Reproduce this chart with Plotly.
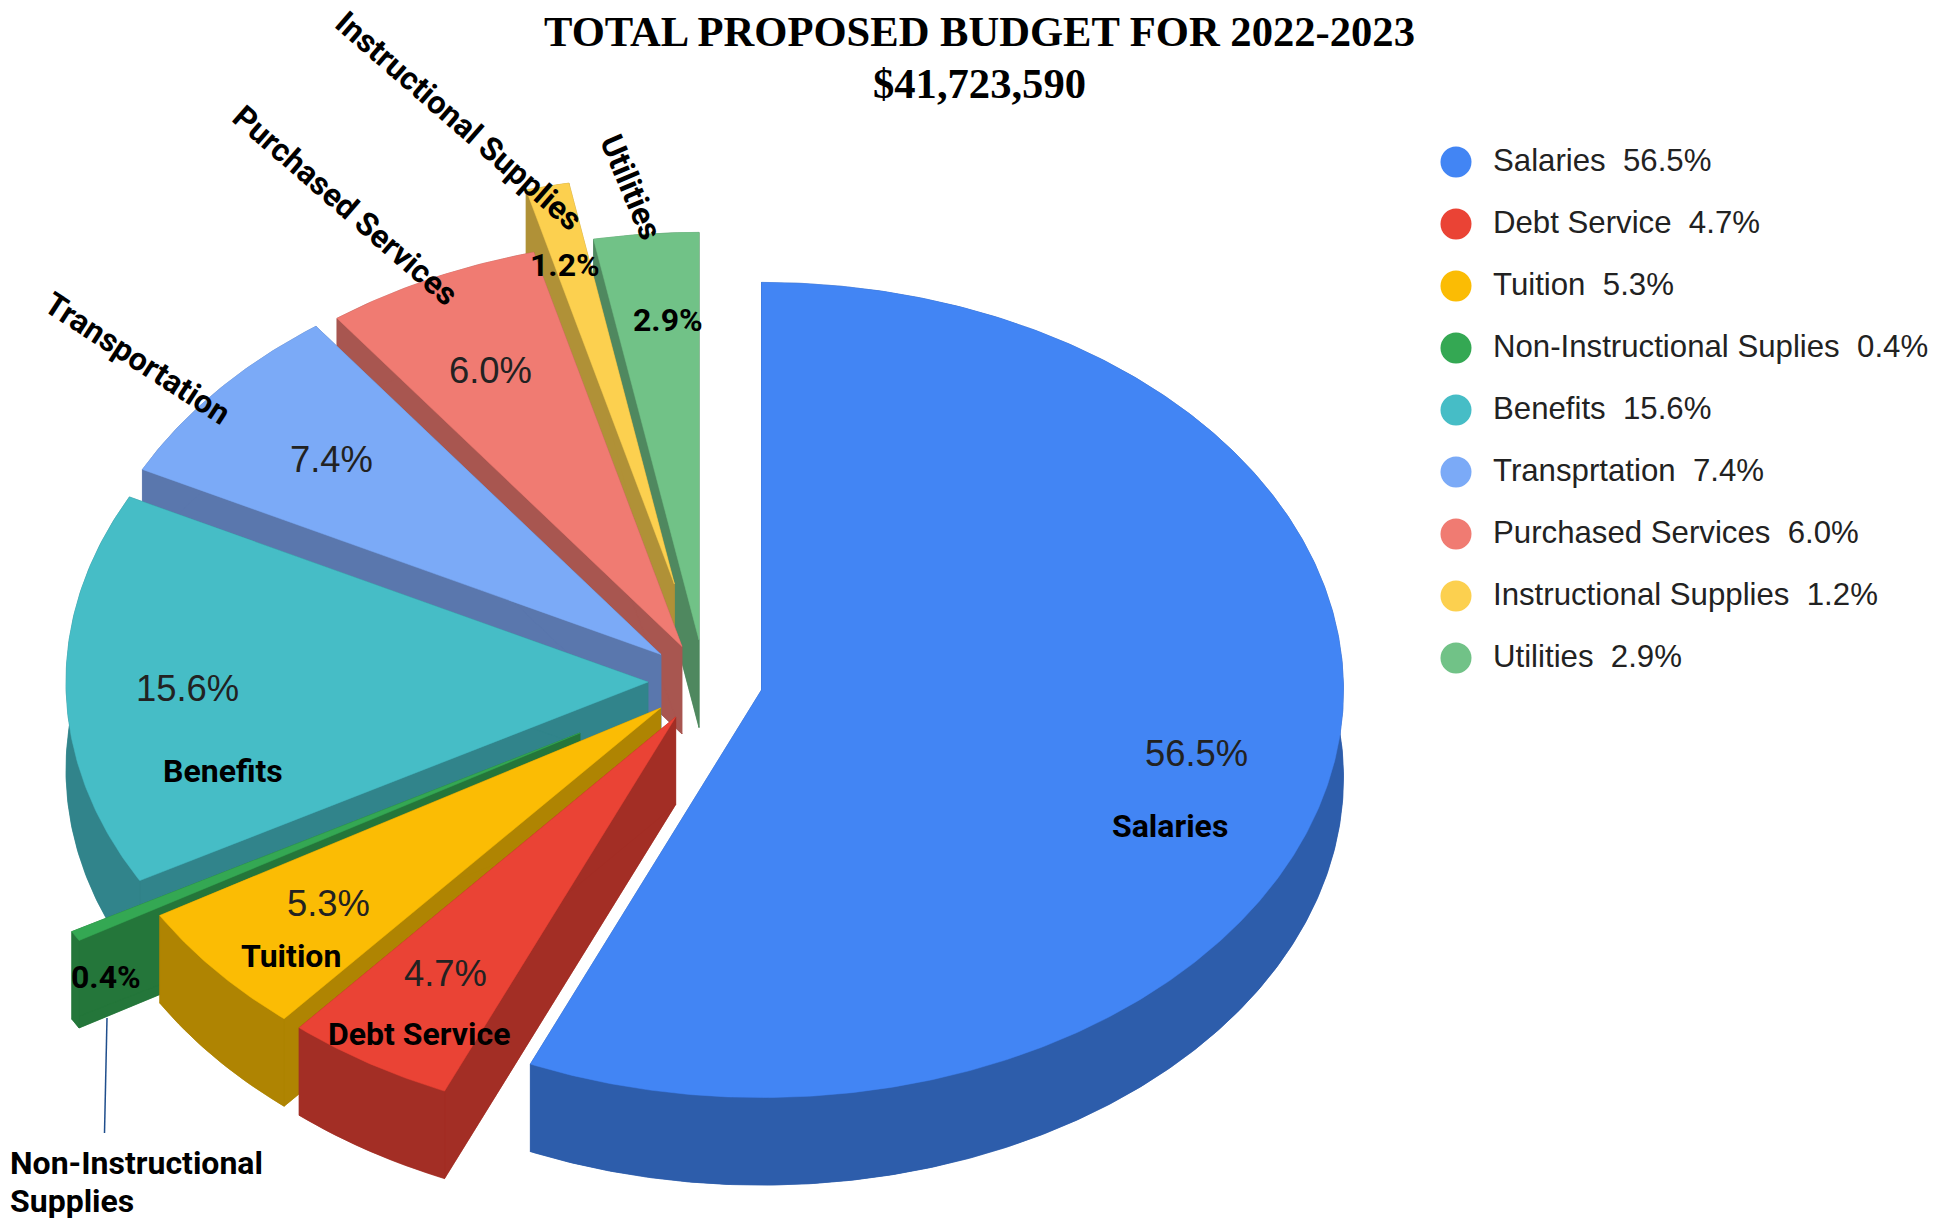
import math
import plotly.graph_objects as go

categories = ["Salaries", "Debt Service", "Tuition", "Non-Instructional Suplies", "Benefits",
              "Transprtation", "Purchased Services", "Instructional Supplies", "Utilities"]
shares = [56.5, 4.7, 5.3, 0.4, 15.6, 7.4, 6.0, 1.2, 2.9]
face_colors = ["#4285F4", "#EA4335", "#FBBC04", "#34A853", "#46BDC6",
               "#7BAAF7", "#F07B72", "#FCD04F", "#71C287"]
wall_colors = ["#2D5DAB", "#A32E25", "#AF8402", "#24763A", "#31848B",
               "#5A77AD", "#A85650", "#B09137", "#4F885F"]
# apex of every exploded wedge, in the picture's 1951x1221 pixel grid
apex_x = [761.5, 675.7, 660.7, 580, 648, 661, 682, 674.4, 699]
apex_y = [690, 717, 708, 733, 682, 654.5, 646.5, 584, 640]

W, H = 1951, 1221
RX, RY, DEPTH = 582, 407.6, 87.5
LEGEND_DOT_X, LEGEND_TEXT_X, LEGEND_Y0, LEGEND_STEP = 1456, 1493, 161, 62
TEXT_FONT = "Liberation Sans"
BOLD_FONT = "Roboto"


def arc(ax, ay, a0, a1, dy=0.0):
    n = max(4, int((a1 - a0) * 2))
    xs, ys = [], []
    for k in range(n + 1):
        t = math.radians(a0 + (a1 - a0) * k / n)
        xs.append(ax + RX * math.sin(t))
        ys.append(ay - RY * math.cos(t) + dy)
    return xs, ys


def poly(xs, ys, color, name):
    return go.Scatter(x=xs + xs[:1], y=ys + ys[:1], mode="lines", fill="toself", fillcolor=color,
                      line=dict(color=color, width=0.5), showlegend=False, hoverinfo="text", text=name)


start = [sum(shares[:i]) * 3.6 for i in range(len(shares))]
fig = go.Figure()

for i in list(range(len(shares) - 1, 0, -1)) + [0]:
    a0, a1 = start[i], start[i] + shares[i] * 3.6
    ax, ay = apex_x[i], apex_y[i]
    x, y = arc(ax, ay, a0, a1)
    xb, yb = arc(ax, ay, a0, a1, DEPTH)
    wall = wall_colors[i]
    name = f"{categories[i]} {shares[i]:.1f}%"
    fig.add_trace(poly([ax] + xb, [ay + DEPTH] + yb, wall, name))
    fig.add_trace(poly([ax, x[0], xb[0], ax], [ay, y[0], yb[0], ay + DEPTH], wall, name))
    fig.add_trace(poly([ax, x[-1], xb[-1], ax], [ay, y[-1], yb[-1], ay + DEPTH], wall, name))
    fig.add_trace(poly(x + xb[::-1], y + yb[::-1], wall, name))
    fig.add_trace(poly([ax] + x, [ay] + y, face_colors[i], name))

for i, c in enumerate(categories):
    yy = LEGEND_Y0 + LEGEND_STEP * i
    fig.add_trace(go.Scatter(x=[LEGEND_DOT_X], y=[yy + 1], mode="markers", showlegend=False, hoverinfo="skip",
                             marker=dict(size=31, color=face_colors[i])))
    fig.add_trace(go.Scatter(x=[LEGEND_TEXT_X], y=[yy + 2], mode="text", showlegend=False, hoverinfo="skip",
                             text=[f"{c}  {shares[i]:.1f}%"], textposition="middle right",
                             textfont=dict(family=TEXT_FONT, size=31.2, color="#222222")))

# (text, x, y, size, bold, angle)
labels = [
    ("56.5%", 1196, 753, 36.4, False, 0), ("Salaries", 1170, 826, 32, True, 0),
    ("4.7%", 445, 973, 36.4, False, 0), ("Debt Service", 419, 1034, 32, True, 0),
    ("5.3%", 328, 903, 36.4, False, 0), ("Tuition", 291, 956, 32, True, 0),
    ("0.4%", 106, 977, 32, True, 0),
    ("15.6%", 187, 688, 36.4, False, 0), ("Benefits", 223, 771, 32, True, 0),
    ("7.4%", 331, 459, 36.4, False, 0), ("Transportation", 137, 358, 32, True, 33),
    ("6.0%", 490, 370, 36.4, False, 0), ("Purchased Services", 345, 205, 32, True, 41),
    ("1.2%", 565, 265, 32, True, 0), ("Instructional Supplies", 459, 121, 32, True, 41),
    ("2.9%", 668, 320, 32, True, 0), ("Utilities", 631, 187, 32, True, 67),
]
ann = []
for t, x, y, s, b, ang in labels:
    ann.append(dict(x=x, y=y, xref="x", yref="y", text=f"<b>{t}</b>" if b else t, showarrow=False,
                    textangle=ang,
                    font=dict(family=BOLD_FONT if b else TEXT_FONT, size=s, color="#000000" if b else "#222222")))
for t, y in [("Non-Instructional", 1163), ("Supplies", 1201)]:
    ann.append(dict(x=8, y=y, xref="x", yref="y", text=f"<b>{t}</b>", showarrow=False,
                    xanchor="left", font=dict(family=BOLD_FONT, size=32, color="#000000")))
for t, y in [("TOTAL PROPOSED BUDGET FOR 2022-2023", 31), ("$41,723,590", 83)]:
    ann.append(dict(x=979, y=y, xref="x", yref="y", text=f"<b>{t}</b>", showarrow=False,
                    font=dict(family="Liberation Serif", size=42.6, color="#000000")))

fig.update_layout(
    width=W, height=H, margin=dict(l=0, r=0, t=0, b=0), paper_bgcolor="white", plot_bgcolor="white",
    xaxis=dict(range=[0, W], visible=False, fixedrange=True),
    yaxis=dict(range=[H, 0], visible=False, fixedrange=True),
    annotations=ann, showlegend=False,
    shapes=[dict(type="line", x0=107, y0=1018, x1=104.5, y1=1133, xref="x", yref="y",
                 line=dict(color="#1F4E8C", width=1.5))],
)
fig.write_html("out.html", config=dict(displayModeBar=False), post_script="document.body.style.margin='0';")
